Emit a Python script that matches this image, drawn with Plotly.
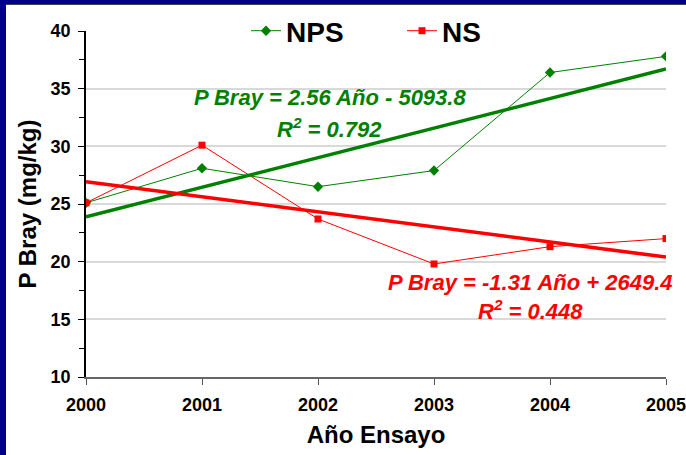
import numpy as np
import plotly.graph_objects as go

years = [2000, 2001, 2002, 2003, 2004, 2005]
nps = [25.1, 28.1, 26.5, 27.9, 36.4, 37.8]
ns = [25.1, 30.1, 23.7, 19.8, 21.3, 22.0]
y_ticks = [10, 15, 20, 25, 30, 35, 40]

GREEN = "#008000"
RED = "#FF0000"
FONT = "Liberation Sans, Arial, sans-serif"

x = np.array(years, dtype=float)
fit_nps = np.polyfit(x, nps, 1)
fit_ns = np.polyfit(x, ns, 1)

fig = go.Figure()
fig.add_trace(go.Scatter(x=years, y=nps, mode="lines+markers", name="<b>NPS</b>",
                         line=dict(color=GREEN, width=1),
                         marker=dict(symbol="diamond", size=8, color=GREEN)))
fig.add_trace(go.Scatter(x=years, y=ns, mode="lines+markers", name="<b>NS</b>",
                         line=dict(color=RED, width=1),
                         marker=dict(symbol="square", size=7, color=RED)))
fig.add_trace(go.Scatter(x=years, y=np.polyval(fit_nps, x), mode="lines",
                         line=dict(color=GREEN, width=3.5), showlegend=False, hoverinfo="skip"))
fig.add_trace(go.Scatter(x=years, y=np.polyval(fit_ns, x), mode="lines",
                         line=dict(color=RED, width=3.5), showlegend=False, hoverinfo="skip"))

L, R, T, B = 86, 20, 31, 78
W, H = 686, 455
pw, ph = W - L - R, H - T - B

def px_x(p):
    return (p - L) / pw

def px_y(p):
    return (H - B - p) / ph

shapes = [
    dict(type="rect", xref="paper", yref="paper", x0=px_x(0), x1=px_x(W), y0=px_y(4), y1=px_y(0),
         fillcolor="#00008B", line=dict(width=0), layer="above"),
    dict(type="rect", xref="paper", yref="paper", x0=px_x(0), x1=px_x(6), y0=px_y(H), y1=px_y(0),
         fillcolor="#00008B", line=dict(width=0), layer="above"),
    dict(type="line", xref="paper", yref="paper", x0=px_x(6), x1=px_x(W), y0=px_y(4.5), y1=px_y(4.5),
         line=dict(color="#444444", width=1), layer="above"),
]

ann_font_g = dict(family=FONT, size=22, color=GREEN)
ann_font_r = dict(family=FONT, size=22, color=RED)
annotations = [
    dict(x=2002.1, y=34.25, xref="x", yref="y", text="<b><i>P Bray = 2.56 Año - 5093.8</i></b>",
         showarrow=False, font=ann_font_g),
    dict(x=2002.1, y=31.55, xref="x", yref="y", text="<b><i>R<sup>2</sup> = 0.792</i></b>",
         showarrow=False, font=ann_font_g),
    dict(x=2003.83, y=18.2, xref="x", yref="y", text="<b><i>P Bray = -1.31 Año + 2649.4</i></b>",
         showarrow=False, font=ann_font_r),
    dict(x=2003.83, y=15.8, xref="x", yref="y", text="<b><i>R<sup>2</sup> = 0.448</i></b>",
         showarrow=False, font=ann_font_r),
]

fig.update_layout(
    width=W, height=H,
    margin=dict(l=L, r=R, t=T, b=B, autoexpand=False),
    paper_bgcolor="white", plot_bgcolor="white",
    font=dict(family=FONT, color="black"),
    shapes=shapes, annotations=annotations,
    legend=dict(orientation="h", x=px_x(246), y=1.0, xanchor="left", yanchor="middle",
                font=dict(family=FONT, size=28, color="black"),
                bgcolor="white", itemwidth=30, entrywidth=111, tracegroupgap=0),
    xaxis=dict(range=[2000, 2005], tickvals=years, ticktext=[f"<b>{v}</b>" for v in years],
               tickfont=dict(size=18), ticks="outside", ticklen=6, tickcolor="#555555",
               ticklabeloverflow="allow", ticklabelstandoff=4,
               showline=True, linecolor="#666666", linewidth=2, showgrid=False, zeroline=False,
               title=dict(text="<b>Año Ensayo</b>", font=dict(size=24), standoff=13)),
    yaxis=dict(range=[10, 40], tickvals=y_ticks, ticktext=[f"<b>{v}</b>" for v in y_ticks],
               tickfont=dict(size=18), ticks="outside", ticklen=6, tickcolor="black",
               ticklabelstandoff=4,
               showline=True, linecolor="black", linewidth=1.5,
               showgrid=True, gridcolor="#D9D9D9", gridwidth=1.5, zeroline=False,
               minor=dict(dtick=2.5, tick0=10, ticks="outside", ticklen=5, tickcolor="black", showgrid=False),
               title=dict(text="<b>P Bray (mg/kg)</b>", font=dict(size=24), standoff=7)),
)

fig.write_html("out.html", config={"displayModeBar": False},
               post_script="document.body.style.margin='0';document.body.style.overflow='hidden';")
